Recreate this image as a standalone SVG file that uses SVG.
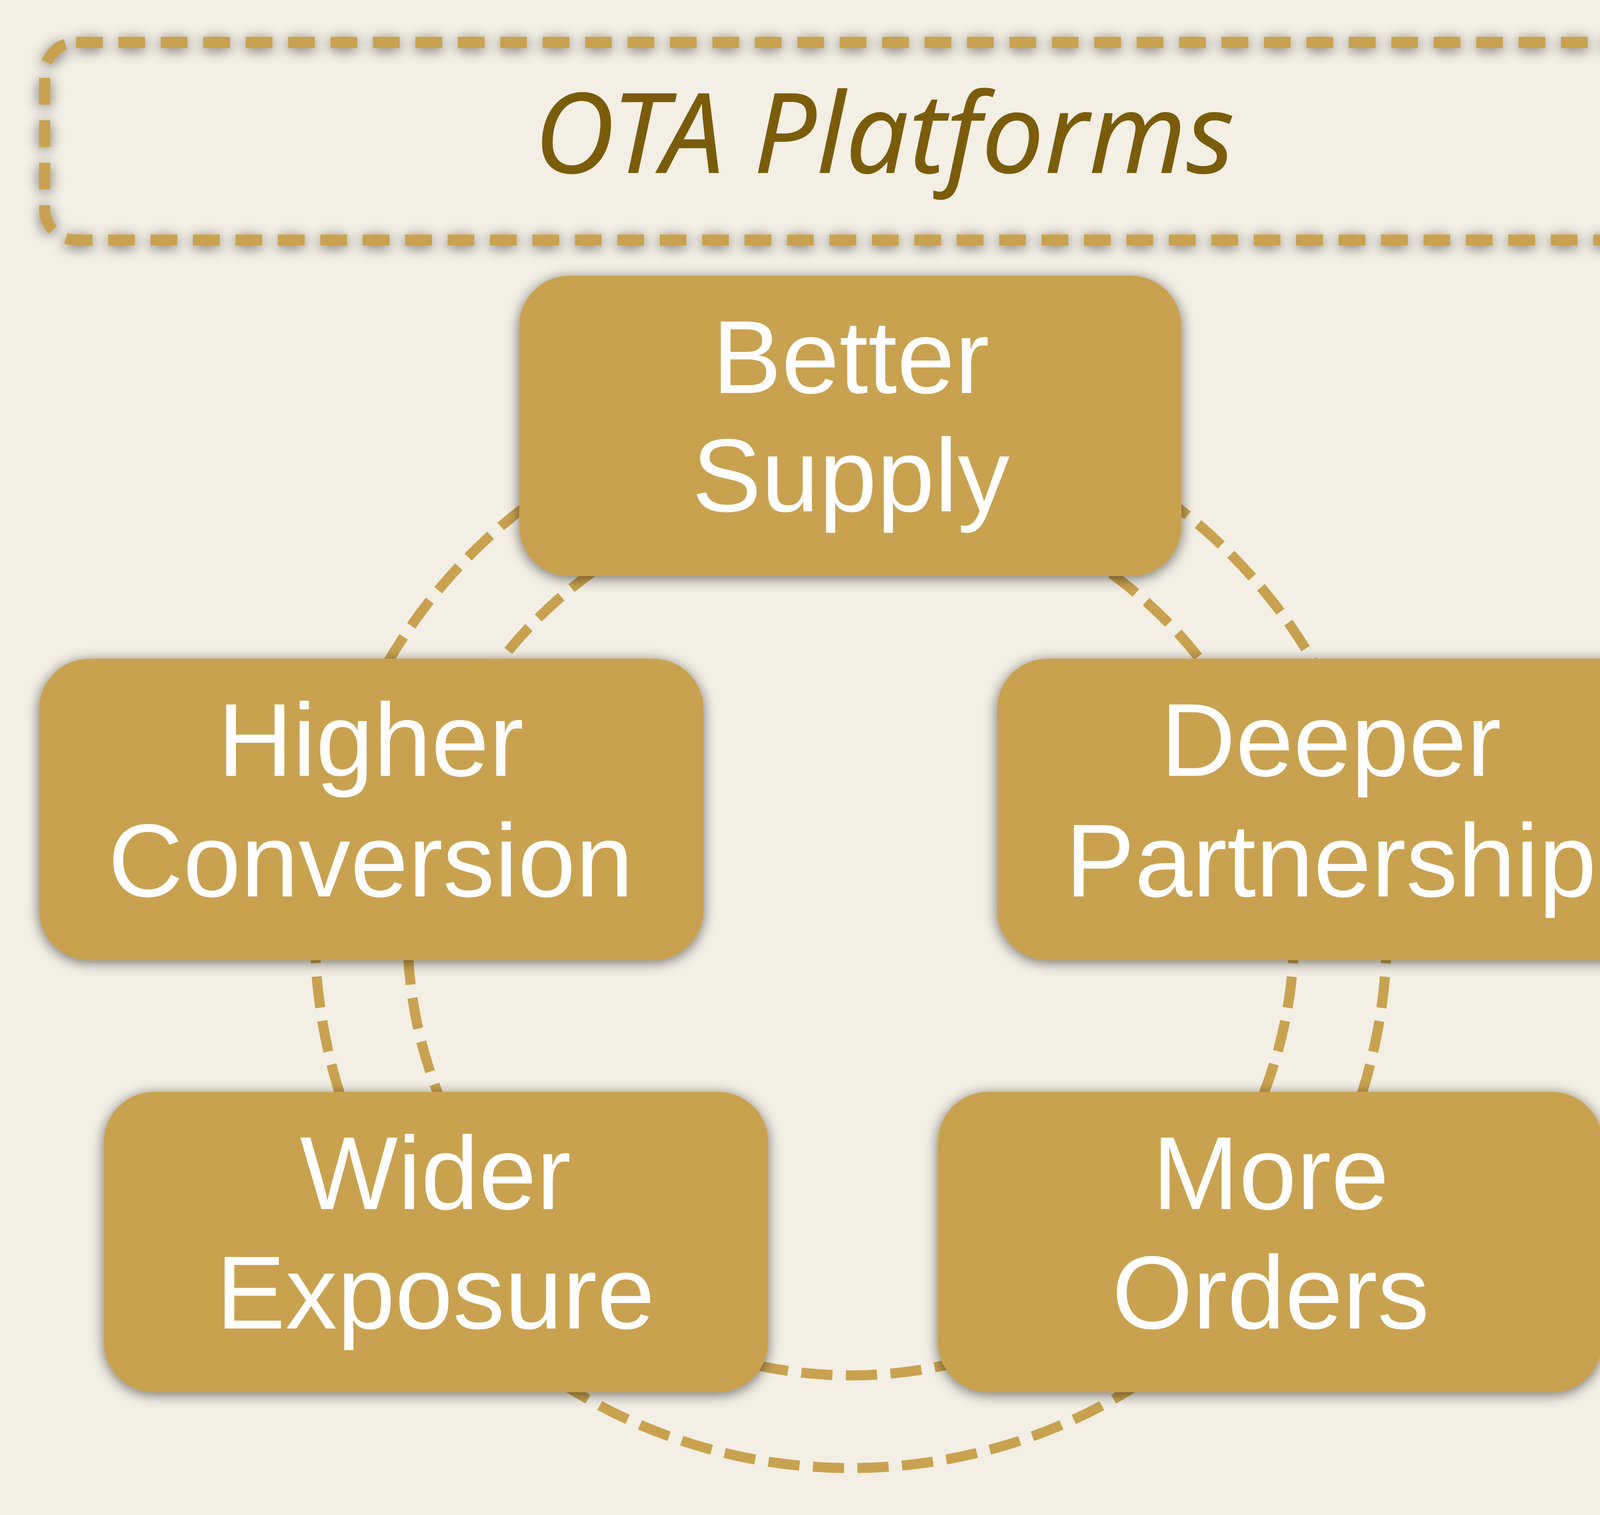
<svg xmlns="http://www.w3.org/2000/svg" width="4482" height="3879" viewBox="0 0 4482 3879">
<defs>
<filter id="sh" x="-20%" y="-20%" width="140%" height="140%"><feGaussianBlur in="SourceAlpha" stdDeviation="6"/><feOffset dx="0" dy="2"/><feComponentTransfer><feFuncA type="linear" slope="0.55"/></feComponentTransfer><feMerge><feMergeNode/><feMergeNode in="SourceGraphic"/></feMerge></filter>
<style>
.node{fill:#C9A24F;filter:url(#sh)}
.t{font-family:"Liberation Sans",Arial,sans-serif;font-size:93px;fill:#fff;text-anchor:middle}
.ring{fill:none;stroke:#C9A24F;stroke-width:9;stroke-dasharray:28 12}
</style>
</defs>
<g transform="scale(2.8584)">
<rect width="1568" height="1357" fill="#F3EFE5"/>
<g id="title">
<rect x="40" y="38" width="1498" height="177" rx="28" fill="none" stroke="#C9A24F" stroke-width="10" stroke-dasharray="24 14" filter="url(#sh)"/>
<text x="792" y="155" font-family="'Noto Sans',sans-serif" font-style="italic" font-size="100" fill="#7A5C0A" text-anchor="middle">OTA Platforms</text>
</g>
<g id="connectors">
<circle class="ring" cx="762" cy="835" r="480"/>
<circle class="ring" cx="762" cy="835" r="397"/>
</g>
<g id="better-supply"><rect class="node" x="465" y="247" width="593" height="269" rx="45"/><text class="t" x="762" y="352">Better</text><text class="t" x="762" y="458">Supply</text></g>
<g id="higher-conversion"><rect class="node" x="35" y="590" width="595" height="270" rx="45"/><text class="t" x="332" y="695">Higher</text><text class="t" x="332" y="803">Conversion</text></g>
<g id="deeper-partnership"><rect class="node" x="893" y="590" width="597" height="270" rx="45"/><text class="t" x="1192" y="695">Deeper</text><text class="t" x="1192" y="803">Partnership</text></g>
<g id="wider-exposure"><rect class="node" x="93" y="978" width="595" height="269" rx="45"/><text class="t" x="390" y="1083">Wider</text><text class="t" x="390" y="1190">Exposure</text></g>
<g id="more-orders"><rect class="node" x="840" y="978" width="595" height="269" rx="45"/><text class="t" x="1138" y="1083">More</text><text class="t" x="1138" y="1190">Orders</text></g>
</g>
</svg>
